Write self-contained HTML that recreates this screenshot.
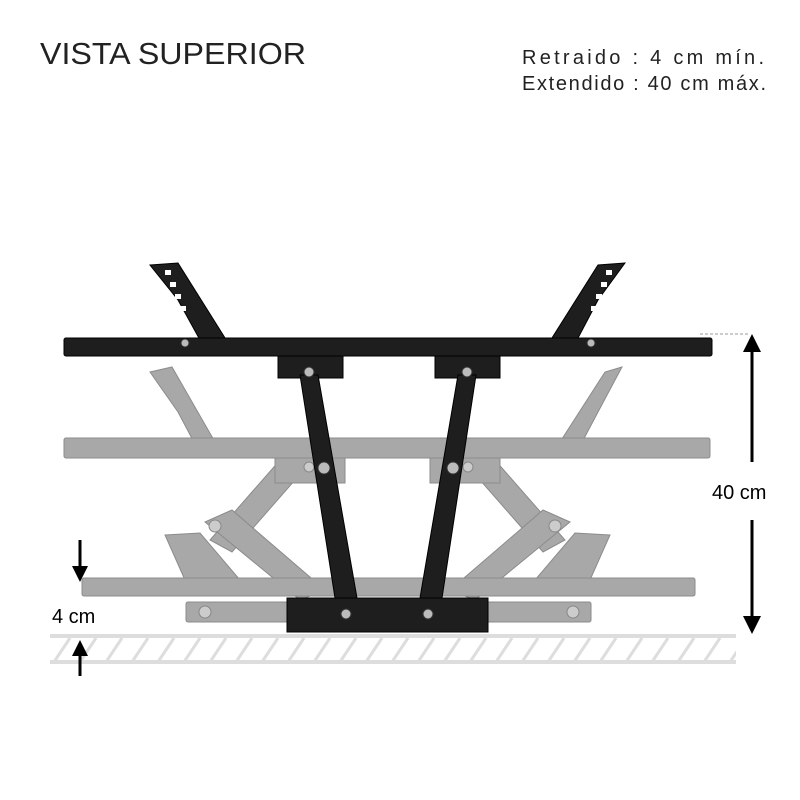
<!DOCTYPE html>
<html><head><style>
body{margin:0;background:#fff;}
svg{display:block;}
text{font-family:"Liberation Sans",sans-serif;}
</style></head><body>
<svg width="800" height="800" viewBox="0 0 800 800" xmlns="http://www.w3.org/2000/svg">
<defs>
<pattern id="h" width="26" height="24" patternUnits="userSpaceOnUse" x="50" y="638">
<line x1="20" y1="0" x2="4" y2="24" stroke="#ddd" stroke-width="3"/>
</pattern>
</defs>
<text x="40" y="64" font-size="31" fill="#222" textLength="266" lengthAdjust="spacingAndGlyphs">VISTA SUPERIOR</text>
<text x="522" y="64" font-size="20" fill="#222" textLength="242" lengthAdjust="spacing">Retraido    : 4 cm mín.</text>
<text x="522" y="90" font-size="20" fill="#222" textLength="244" lengthAdjust="spacing">Extendido : 40 cm máx.</text>

<!-- floor -->
<rect x="50" y="638" width="686" height="24" fill="url(#h)"/>
<line x1="50" y1="636" x2="736" y2="636" stroke="#ddd" stroke-width="4"/>
<line x1="50" y1="662" x2="736" y2="662" stroke="#ddd" stroke-width="4"/>

<!-- gray ghosts -->
<g fill="#9a9a9a" stroke="#777" stroke-width="1" opacity="0.85">
<polygon points="150,372 172,367 215,442 196,446 178,412"/>
<polygon points="622,367 605,372 560,442 580,446 598,412"/>
<rect x="64" y="438" width="646" height="20" rx="2"/>
<polygon points="280,460 302,472 232,552 210,540"/>
<polygon points="495,460 473,472 543,552 565,540"/>
<polygon points="205,522 232,510 325,590 300,600"/>
<polygon points="570,522 543,510 450,590 475,600"/>
<polygon points="165,535 200,533 240,580 185,580"/>
<polygon points="610,535 575,533 535,580 590,580"/>
<rect x="82" y="578" width="613" height="18" rx="2"/>
<rect x="186" y="602" width="405" height="20" rx="2"/>
<rect x="275" y="458" width="70" height="25"/>
<rect x="430" y="458" width="70" height="25"/>
</g>
<g fill="#ccc" stroke="#888">
<circle cx="215" cy="526" r="6"/><circle cx="555" cy="526" r="6"/>
<circle cx="205" cy="612" r="6"/><circle cx="573" cy="612" r="6"/>
<circle cx="309" cy="467" r="5"/><circle cx="468" cy="467" r="5"/>
</g>

<!-- top bar + brackets -->
<g fill="#1e1e1e" stroke="#000">
<polygon points="150,265 178,263 225,338 200,340 178,300"/>
<polygon points="625,263 598,265 552,338 577,340 598,300"/>
<rect x="64" y="338" width="648" height="18" rx="2"/>
<rect x="278" y="356" width="65" height="22"/>
<rect x="435" y="356" width="65" height="22"/>
<polygon points="300,375 318,375 357,598 335,598"/>
<polygon points="458,375 476,375 442,598 420,598"/>
<rect x="287" y="598" width="201" height="34"/>
</g>
<g fill="#fff">
<rect x="165" y="270" width="6" height="5"/><rect x="170" y="282" width="6" height="5"/><rect x="175" y="294" width="6" height="5"/><rect x="180" y="306" width="6" height="5"/>
<rect x="606" y="270" width="6" height="5"/><rect x="601" y="282" width="6" height="5"/><rect x="596" y="294" width="6" height="5"/><rect x="591" y="306" width="6" height="5"/>
</g>
<g fill="#bbb" stroke="#333">
<circle cx="185" cy="343" r="4"/><circle cx="591" cy="343" r="4"/>
<circle cx="309" cy="372" r="5"/><circle cx="467" cy="372" r="5"/>
<circle cx="324" cy="468" r="6"/><circle cx="453" cy="468" r="6"/>
<circle cx="346" cy="614" r="5"/><circle cx="428" cy="614" r="5"/>
</g>

<!-- dimension arrows -->
<line x1="700" y1="334" x2="750" y2="334" stroke="#999" stroke-dasharray="3,2"/>
<line x1="752" y1="350" x2="752" y2="462" stroke="#000" stroke-width="3"/>
<line x1="752" y1="520" x2="752" y2="618" stroke="#000" stroke-width="3"/>
<polygon points="743,352 752,334 761,352" fill="#000"/>
<polygon points="743,616 752,634 761,616" fill="#000"/>
<text x="712" y="499" font-size="20" fill="#000">40 cm</text>

<line x1="80" y1="540" x2="80" y2="568" stroke="#000" stroke-width="3"/>
<polygon points="72,566 80,582 88,566" fill="#000"/>
<line x1="80" y1="655" x2="80" y2="676" stroke="#000" stroke-width="3"/>
<polygon points="72,656 80,640 88,656" fill="#000"/>
<text x="52" y="623" font-size="20" fill="#000">4 cm</text>
</svg>
</body></html>
